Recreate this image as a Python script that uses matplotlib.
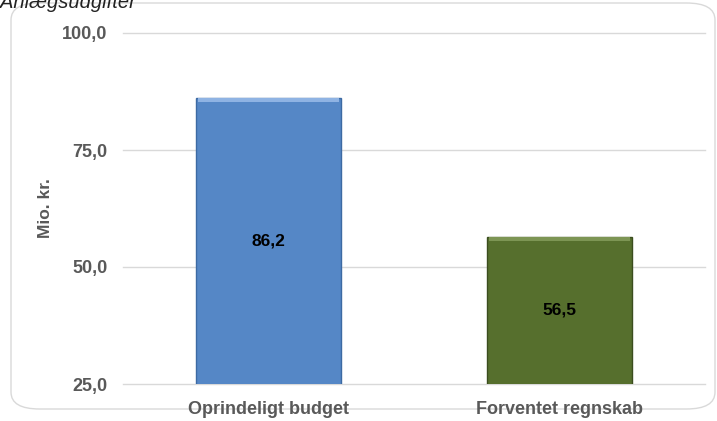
import matplotlib.pyplot as plt
from matplotlib.patches import FancyBboxPatch

categories = ["Oprindeligt budget", "Forventet regnskab"]
values = [86.2, 56.5]
bar_colors = ["#5587c6", "#566f2d"]
edge_colors = ["#3d6aa3", "#3b4d1e"]
yticks = [25, 50, 75, 100]

plt.rcParams["font.family"] = ["Liberation Sans", "DejaVu Sans"]

fig = plt.figure(figsize=(7.17, 4.21), dpi=100)
W, H = 717, 421

# rounded frame of the chart area
frame = FancyBboxPatch((11 / W, 12 / H), 704 / W, 406 / H,
                       boxstyle="round,pad=0,rounding_size=0.04",
                       transform=fig.transFigure, facecolor="white",
                       edgecolor="#d9d9d9", linewidth=1.0, zorder=-5)
fig.patches.append(frame)

fig.text(0.0, 1 - 8 / H, "Anlægsudgifter", style="italic", fontsize=14.5,
         color="#222222", va="baseline", ha="left")

ax = fig.add_axes([123 / W, 1 - 384 / H, 582 / W, 351 / H])
ax.set_facecolor("none")
x = range(len(categories))
bars = ax.bar(x, values, width=0.5, bottom=0, color=bar_colors,
              edgecolor=edge_colors, linewidth=1.0, zorder=3)

# light bevel along the top edge of each bar
for b, c in zip(bars, ["#8fb3e3", "#7d9554"]):
    ax.bar(b.get_x() + b.get_width() / 2, 0.9, width=b.get_width() * 0.97,
           bottom=b.get_height() - 1.0, color=c, linewidth=0, zorder=4)

for i, v in enumerate(values):
    ax.text(i, 25 + (v - 25) / 2, f"{v:.1f}".replace(".", ","),
            ha="center", va="center", fontsize=12.5, fontweight="bold",
            color="black", zorder=5)

ax.set_ylim(25, 100)
ax.set_xlim(-0.5, 1.5)
ax.set_yticks(yticks)
ax.set_yticklabels([f"{t:.1f}".replace(".", ",") for t in yticks])
ax.set_xticks(list(x))
ax.set_xticklabels(categories)
ax.grid(axis="y", color="#d9d9d9", linewidth=1.0, zorder=0)
for gl in ax.get_ygridlines():
    gl.set_clip_on(False)
for s in ax.spines.values():
    s.set_visible(False)
ax.tick_params(axis="both", length=0, colors="#595959", labelsize=13)
ax.tick_params(axis="y", pad=11)
ax.tick_params(axis="x", pad=12, labelsize=13)
for lbl in ax.get_xticklabels() + ax.get_yticklabels():
    lbl.set_fontweight("bold")
ax.set_ylabel("Mio. kr.", fontsize=12.5, fontweight="bold", color="#595959")
ax.yaxis.set_label_coords(-0.12, 0.5)

fig.savefig("out.png", dpi=100)
